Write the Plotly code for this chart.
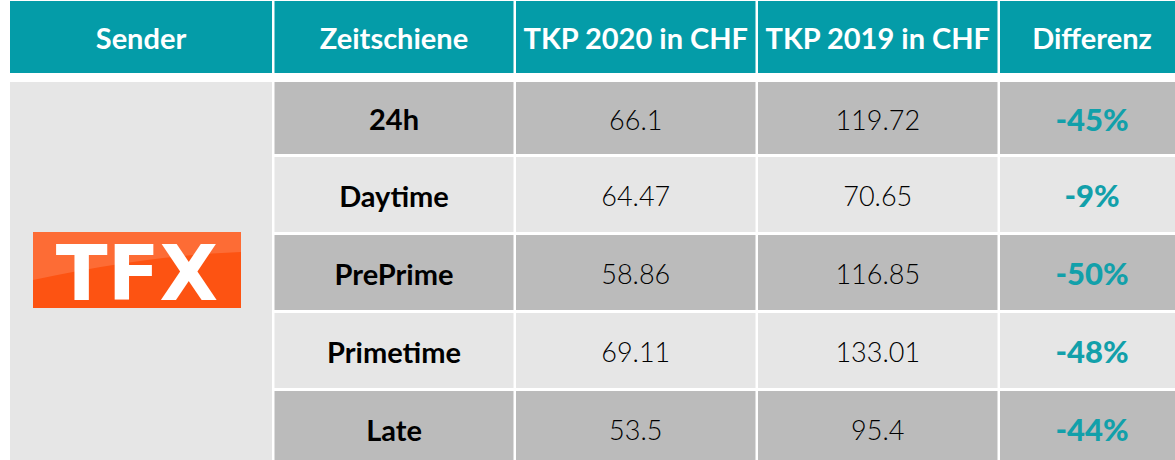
import plotly.graph_objects as go

# ---- data ----
headers = ["Sender", "Zeitschiene", "TKP 2020 in CHF", "TKP 2019 in CHF", "Differenz"]
sender = "TFX"
zeitschiene = ["24h", "Daytime", "PrePrime", "Primetime", "Late"]
tkp_2020 = ["66.1", "64.47", "58.86", "69.11", "53.5"]
tkp_2019 = ["119.72", "70.65", "116.85", "133.01", "95.4"]
differenz = ["-45%", "-9%", "-50%", "-48%", "-44%"]

# ---- layout constants ----
W, H = 1175, 460
col_edges = [(10, 272), (274.5, 513.5), (516, 755.5), (758, 997.5), (1000, 1184)]
header_band = (1, 73)
row_bands = [(82, 154), (157, 232), (235, 310), (313, 388), (391, 466)]
TEAL = "#049ca8"
TEAL_TXT = "#12a0aa"
DARK = "#bbbbbb"
LIGHT = "#e6e6e6"
FONT = "Lato"
TEXT_SHIFT = 5

shapes = []
# header cells
for (x0, x1) in col_edges:
    shapes.append(dict(type="rect", xref="x", yref="y", x0=x0, x1=x1,
                       y0=header_band[0], y1=header_band[1],
                       fillcolor=TEAL, line=dict(width=0), layer="below"))
# merged sender cell
shapes.append(dict(type="rect", xref="x", yref="y", x0=col_edges[0][0], x1=col_edges[0][1],
                   y0=row_bands[0][0], y1=row_bands[-1][1],
                   fillcolor=LIGHT, line=dict(width=0), layer="below"))
# body cells
for i, (y0, y1) in enumerate(row_bands):
    fill = DARK if i % 2 == 0 else LIGHT
    for (x0, x1) in col_edges[1:]:
        shapes.append(dict(type="rect", xref="x", yref="y", x0=x0, x1=x1, y0=y0, y1=y1,
                           fillcolor=fill, line=dict(width=0), layer="below"))

# logo
shapes.append(dict(type="rect", xref="x", yref="y", x0=33, x1=241, y0=232, y1=308,
                   fillcolor="#fd5312", line=dict(width=0), layer="below"))
shapes.append(dict(type="path", xref="x", yref="y",
                   path="M 33 232 L 241 232 L 241 252 Q 150 255 33 280 Z",
                   fillcolor="rgba(255,255,255,0.15)", line=dict(width=0), layer="below"))

fig = go.Figure()

def cx(c):
    return (col_edges[c][0] + col_edges[c][1]) / 2

def cy(r):
    return (row_bands[r][0] + row_bands[r][1]) / 2 + TEXT_SHIFT

hy = (header_band[0] + header_band[1]) / 2 + TEXT_SHIFT

# header text
fig.add_trace(go.Scatter(
    x=[cx(c) for c in range(len(headers))], y=[hy] * len(headers),
    text=headers, mode="text", textposition="middle center",
    textfont=dict(family=FONT, size=29, color="white", weight="bold"),
    hoverinfo="skip", showlegend=False))

# Zeitschiene labels
fig.add_trace(go.Scatter(
    x=[cx(1)] * len(zeitschiene), y=[cy(r) for r in range(len(zeitschiene))],
    text=zeitschiene, mode="text", textposition="middle center",
    textfont=dict(family=FONT, size=29, color="#000000", weight="bold"),
    hoverinfo="skip", showlegend=False))

# numbers
for c, vals in [(2, tkp_2020), (3, tkp_2019)]:
    fig.add_trace(go.Scatter(
        x=[cx(c)] * len(vals), y=[cy(r) for r in range(len(vals))],
        text=vals, mode="text", textposition="middle center",
        textfont=dict(family=FONT, size=27, color="#000000", weight=300),
        hoverinfo="skip", showlegend=False))

# differenz
fig.add_trace(go.Scatter(
    x=[cx(4)] * len(differenz), y=[cy(r) for r in range(len(differenz))],
    text=differenz, mode="text", textposition="middle center",
    textfont=dict(family=FONT, size=31, color=TEAL_TXT, weight=900),
    hoverinfo="skip", showlegend=False))

# sender logo text
fig.add_trace(go.Scatter(
    x=[137], y=[281], text=[sender], mode="text", textposition="middle center",
    textfont=dict(family="DejaVu Sans", size=76, color="white", weight=900),
    hoverinfo="skip", showlegend=False))

fig.update_layout(
    width=W, height=H, margin=dict(l=0, r=0, t=0, b=0),
    paper_bgcolor="white", plot_bgcolor="white", shapes=shapes,
    xaxis=dict(range=[0, W], visible=False, fixedrange=True),
    yaxis=dict(range=[H, 0], visible=False, fixedrange=True),
)

fig.write_html(
    "out.html",
    config={"displayModeBar": False},
    post_script="document.body.style.margin='0';document.body.style.overflow='hidden';",
)
